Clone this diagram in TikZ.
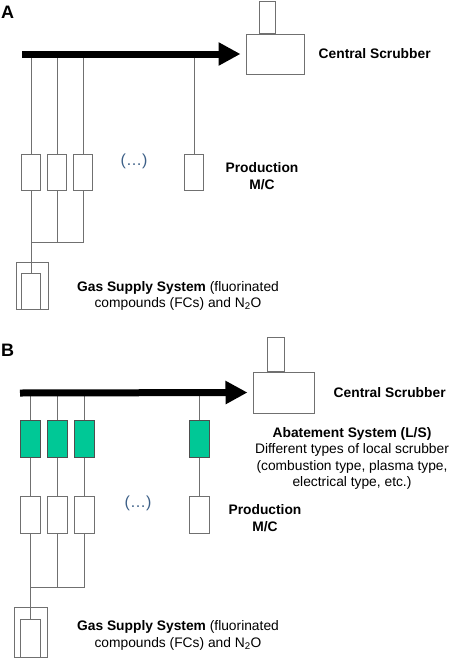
\documentclass[tikz,border=0pt]{standalone}
\usepackage{fontspec}
\setmainfont{Liberation Sans}
\usetikzlibrary{arrows.meta,positioning}
\definecolor{lsgreen}{RGB}{0,200,150}
\definecolor{linegray}{RGB}{112,112,112}
\definecolor{dotblue}{RGB}{60,95,135}

\begin{document}
\begin{tikzpicture}[x=1pt,y=-1pt,
    mc/.style={draw=linegray,line width=1pt,inner sep=0pt,minimum width=19pt,minimum height=36pt},
    ls/.style={mc,fill=lsgreen,draw=linegray!70!black,minimum width=20pt,minimum height=37pt},
    pipe/.style={draw=linegray,line width=1pt},
    duct/.style={line width=7pt,-{Triangle[length=22pt,width=22pt]},shorten >=5pt},
    txt/.style={font=\fontsize{13.8}{16.3}\selectfont,align=center,inner sep=0pt},
    btxt/.style={txt,font=\fontsize{13.8}{16.3}\selectfont\bfseries},
    dots/.style={txt,font=\fontsize{16}{18}\selectfont,text=dotblue},
    panel/.style={font=\fontsize{18}{20}\selectfont\bfseries,inner sep=0pt}]
  \useasboundingbox (0,0) rectangle (450,659);

  % panel A
  \node[panel] (tA) at (7.5,12) {A};
  \node[mc,minimum width=58pt,minimum height=40pt] (scA) at (275,54) {};
  \node[mc,minimum width=16pt,minimum height=32pt,above=0pt of scA.north,xshift=-8pt] (chA) {};
  \node[btxt] (csA) [right=14pt of scA] {Central Scrubber};
  \coordinate (sA) at (22,54);

  \foreach \n/\x in {1/31,2/57,3/83,4/194}
    \node[mc] (pA\n) at (\x,172) {};
  \foreach \n in {1,...,4}
    \draw[pipe] (pA\n.north) -- (pA\n.north |- sA);
  \node[dots] (dA) at (134,161) {(…)};
  \node[btxt] (mcA) at (262,176) {Production\\M/C};

  \node[mc,minimum width=32pt,minimum height=47pt] (gA) at (32,285.5) {};
  \node[mc] (gAi) at (31,291) {};
  \coordinate (jA) at (31,242);
  \draw[pipe] (pA1.south) -- (gAi.north);
  \draw[pipe] (pA2.south) -- (pA2.south |- jA)
              (pA3.south) |- (jA);
  \node[txt] (gsA) at (178,296) {\textbf{Gas Supply System} (fluorinated\\compounds (FCs) and N\textsubscript{2}O};

  \draw[duct] (sA) -- (scA.west);

  % panel B
  \node[panel] (tB) at (7.5,350) {B};
  \node[mc,minimum width=61pt,minimum height=41pt] (scB) at (283.5,392.5) {};
  \node[mc,minimum width=17pt,minimum height=34pt,above=0pt of scB.north,xshift=-8pt] (chB) {};
  \node[btxt] (csB) [right=19pt of scB] {Central Scrubber};
  \coordinate (sB) at (20,393);

  \foreach \n/\x in {1/30,2/57,3/84,4/199}
    \node[ls] (lB\n) at (\x,438.5) {};
  \foreach \n/\x in {1/30,2/57,3/84,4/199}
    \node[mc,minimum width=20pt,minimum height=37pt] (pB\n) at (\x,514.5) {};
  \foreach \n in {1,...,4}
    \draw[pipe] (lB\n.north) -- (lB\n.north |- sB)
                (lB\n.south) -- (pB\n.north);
  \node[dots] (dB) at (138,503) {(…)};
  \node[btxt] (mcB) at (265,518) {Production\\M/C};
  \node[txt] (abB) at (352,458.5) {\textbf{Abatement System (L/S)}\\Different types of local scrubber\\(combustion type, plasma type,\\electrical type, etc.)};

  \node[mc,minimum width=33pt,minimum height=50pt] (gB) at (30.5,632) {};
  \node[mc,minimum width=20pt,minimum height=38pt] (gBi) at (30,638) {};
  \coordinate (jB) at (30,587);
  \draw[pipe] (pB1.south) -- (gBi.north);
  \draw[pipe] (pB2.south) -- (pB2.south |- jB)
              (pB3.south) |- (jB);
  \node[txt] (gsB) at (178,635.5) {\textbf{Gas Supply System} (fluorinated\\compounds (FCs) and N\textsubscript{2}O};

  \draw[duct] (sB) -- (scB.west);
\end{tikzpicture}
\end{document}
